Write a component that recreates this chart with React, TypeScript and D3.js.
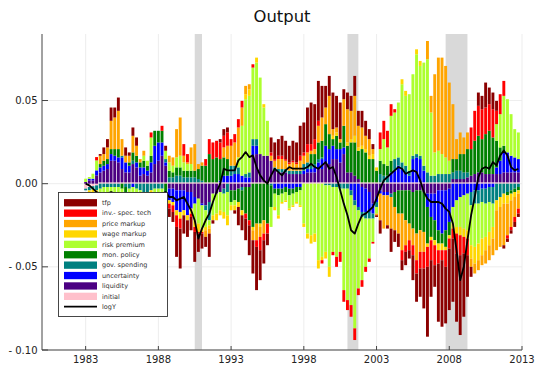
import React, { useRef, useEffect } from "react";
import * as d3 from "d3";

// quarterly shock decomposition, 1983Q1 .. 2012Q4, values in 1/1000 of log output
const firstYear = 1983;

const tfp = [
  0, 0, 0, -3, 1, 4, 5, 8, 6, 8,
  0, 5, 2, 5, 5, -1, -3, -2, -3, -2,
  -2, -2, 3, -5, -6, -18, -24, -11, -10, -8,
  -18, -11, -9, -6, -14, -2, 0, 2, 4, 3,
  0, -2, -11, -9, -13, -18, -20, -26, -18, -14,
  -7, 9, 10, 10, 12, 11, 10, 12, 12, 18,
  18, 22, 25, 21, 24, 19, 13, 12, 22, 19,
  22, 6, 10, 9, 12, 9, 10, 9, 6, 3,
  -1, -8, 0, -2, -14, -7, -8, -6, -8, -5,
  -15, -17, -17, -24, -42, -22, -13, -35, -40, -34,
  -37, -38, -41, -48, -38, -25, -6, 0, 8, 8,
  15, 10, 10, 6, 0, -2, -2, -2, -3, -2,
];
const invTech = [
  0, 0, -2, 2, -2, -2, -2, -1, -2, -1,
  -2, 0, -2, -2, -2, -2, -3, -3, 3, 0,
  0, 3, -5, -3, -4, -7, -6, 7, 5, -2,
  -3, -1, -1, 4, 9, 10, 10, 10, 7, 8,
  4, 5, 5, 4, -3, -3, 2, -4, -8, -4,
  -6, 2, 1, 2, 2, 1, 1, 1, 1, 3,
  2, 5, 4, 6, 3, -2, 0, 0, -2, -6,
  -6, -7, -6, -7, -7, -4, -4, -3, -2, -1,
  0, 10, 11, 10, 7, 2, 0, -6, -4, -6,
  -6, -8, -10, -10, -12, -12, -12, -8, -6, -10,
  -6, -6, -12, -12, -10, -10, 13, 18, 18, 18,
  16, 16, 17, 8, 12, 9, -2, -2, -3, -3,
];
const priceMarkup = [
  0, 0, 0, 0, 5, 4, 7, 17, 19, 23,
  10, 4, 4, 10, 6, 2, 3, -4, -4, -2,
  -2, -3, -4, 4, 5, 17, 23, 4, 1, 10,
  16, 3, 2, -4, -3, 0, 0, 0, 6, 8,
  12, 14, 18, 11, 5, 3, -6, -10, -6, -8,
  0, 3, 4, 6, 6, 5, 4, 5, 4, 6,
  5, 6, 2, 3, 10, 14, 10, 23, 4, 3,
  2, 16, 20, 17, 24, 13, 11, 8, 10, 3,
  -1, -16, -20, -18, -19, -14, -12, -22, -15, -10,
  -10, -16, -13, -12, 11, 10, 47, 56, 58, 55,
  47, 33, 12, 13, 10, 10, -5, -6, -6, -6,
  -8, -9, -10, -24, -24, -25, -19, -16, -12, -9,
];
const wageMarkup = [
  0, -2, -2, -3, -3, -2, -2, -2, -2, -2,
  -2, -2, -3, -2, -2, -3, -4, -4, -3, -2,
  -2, -2, -3, -2, -2, -3, -4, -3, -3, -3,
  -4, -5, -2, -2, -2, -3, -4, -3, -4, -6,
  -3, -3, -3, -3, 3, 4, -2, 3, -2, 2,
  0, 0, -2, -2, -1, -1, -1, -1, -1, -1,
  -2, -3, -5, -5, -5, -2, -4, -6, 2, 2,
  0, 0, 2, 2, 4, 2, 2, 2, 2, 3,
  2, 0, 0, 0, 0, 0, 0, 3, 3, 0,
  0, 3, 3, 0, -2, -2, -3, -4, -4, -2,
  -2, -3, -4, -5, -5, -5, -8, -10, -10, -10,
  -8, -8, -7, -6, -6, -6, -5, -4, -3, -2,
];
const riskPremium = [
  2, 1, 3, 6, -4, -4, -3, -3, -4, -3,
  -5, -6, -8, -6, -7, -6, 3, 3, 11, -3,
  -3, -4, 5, 5, 4, 6, 7, 5, 4, 4,
  -10, -15, -14, -10, -3, -13, -12, -11, -11, -14,
  -2, -3, 6, 30, 45, 46, 43, 46, 46, 29,
  21, -12, -8, -12, -5, -5, -8, -7, -6, -9,
  -24, -30, -31, -30, -46, -44, -40, -49, -39, -42,
  -38, -61, -67, -66, -74, -47, -38, -29, -24, -14,
  -4, 7, 15, 11, 27, 28, 33, 47, 42, 46,
  49, 60, 54, 62, 68, 38, 14, 14, 12, 10,
  8, -10, -16, -18, -20, -22, -24, -26, -24, -22,
  -20, -18, -14, 10, 20, 30, 32, 25, 17, 16,
];
const monPolicy = [
  0, 0, 0, 0, 2, 3, 3, 3, 4, 5,
  -3, -4, 2, 5, 4, 3, 4, 3, 4, 9,
  7, 7, -6, 4, 3, 5, 5, 4, 4, 4,
  4, 6, 9, 10, 17, 14, 15, 13, 11, 10,
  -7, -6, -8, -12, -16, -20, -26, -24, -24, -22,
  -24, -13, -3, -4, -3, -3, -4, -3, -3, -2,
  0, 0, 7, 6, 10, 10, 13, 9, 4, 8,
  4, 13, 16, 18, 20, 17, 20, 18, 14, 14,
  7, 8, 7, 6, 7, -9, -14, -14, -18, -20,
  -22, -26, -24, -24, -22, -12, -12, -8, -6, -10,
  -8, 8, 7, 10, 11, 14, 16, 20, 22, 20,
  24, 26, 22, 16, 8, 4, -2, -2, -2, -2,
];
const govSpending = [
  -1, -2, -2, -3, -3, -2, -2, -2, -2, -2,
  1, -2, -3, 2, -3, -4, -5, -5, -4, -3,
  -3, -3, 2, 3, 3, 4, 4, 3, 3, 3,
  3, 2, 1, -3, -11, 0, 0, 0, -3, -5,
  6, 5, 4, -2, 2, 3, 4, 4, 0, 0,
  0, -1, 2, 2, 2, 2, 2, 2, 2, 2,
  4, 4, 2, 2, 2, 1, -1, -1, -2, -2,
  -3, -3, -3, -3, -3, -2, -3, -4, -4, -3,
  -3, 5, 4, 4, -2, 7, 5, 4, 4, 3,
  2, 2, 2, 3, 6, 4, 4, 5, 5, 5,
  5, 4, 5, 5, 4, 3, -8, -8, -8, -8,
  -9, -9, -10, -10, -8, -6, -5, -4, -3, -2,
];
const uncertainty = [
  0, 1, 1, 3, 3, 3, 3, 4, 3, 3,
  7, 6, 4, -2, 3, 5, 4, 3, 6, 11,
  11, 8, 2, -7, -8, -12, -13, -12, -14, -10,
  -4, 0, -1, 0, 0, 0, 0, 1, 4, 4,
  4, 5, 5, 4, 3, 3, 6, 5, 0, 0,
  0, 0, -3, -3, -3, -2, -3, -3, -2, -2,
  2, 2, 2, 3, 4, 6, 10, 9, 8, 6,
  8, 4, 0, -4, -10, -14, -15, -14, -12, -6,
  -3, -2, -2, -2, 6, 7, 10, 8, 6, 4,
  14, 15, 14, 7, -8, -14, -16, -24, -26, -24,
  -20, -14, -10, -8, -7, -6, -5, -4, -4, -3,
  -3, -2, -2, 4, 8, 12, 12, 10, 9, 8,
];
const liquidity = [
  1, 2, 2, 5, 6, 7, 8, 13, 13, 12,
  8, 6, 6, 11, 9, 4, 5, 4, 6, 11,
  13, 16, 10, -3, -3, -4, -4, -4, -5, -5,
  -8, -9, -12, -13, -11, -6, -6, -5, -3, 0,
  -4, -4, -3, -2, -2, -2, 16, 17, 17, 16,
  16, 13, 7, 6, 6, 6, 5, 5, 5, 5,
  5, 6, 6, 6, 8, 8, 12, 11, 14, 14,
  12, 17, 6, 6, 4, 2, -2, -3, -5, -12,
  -8, -4, -5, -5, -6, -5, -4, -4, -4, -4,
  -5, -4, -4, -5, -6, -6, -6, -4, -4, -4,
  -3, 2, 2, 2, 2, 3, 4, 5, 6, 6,
  5, 5, 5, 5, 5, 6, 6, 6, 6, 6,
];
const initial = [
  -3, -2, -1.5, -1, 0.8, 0.8, 0.8, 0.8, 0.8, 0.8,
  0.8, 0.8, 0.8, 0.8, 0.8, 0.8, 0.8, 0.8, 0.8, 0.8,
  0.8, 0.8, 0.8, 0.8, 0.8, 0.8, 0.8, 0.8, 0.8, 0.8,
  0.8, 0.8, 0.8, 0.8, 0.8, 0.8, 0.8, 0.8, 0.8, 0.8,
  0.8, 0.8, 0.8, 0.8, 0.8, 0.8, 0.8, 0.8, 0.8, 0.8,
  0.8, 0.8, 0.8, 0.8, 0.8, 0.8, 0.8, 0.8, 0.8, 0.8,
  0.8, 0.8, 0.8, 0.8, 0.8, 0.8, 0.8, 0.8, 0.8, 0.8,
  0.8, 0.8, 0.8, 0.8, 0.8, 0.8, 0.8, 0.8, 0.8, 0.8,
  0.8, 0.8, 0.8, 0.8, 0.8, 0.8, 0.8, 0.8, 0.8, 0.8,
  0.8, 0.8, 0.8, 0.8, 0.8, 0.8, 0.8, 0.8, 0.8, 0.8,
  0.8, 0.8, 0.8, 0.8, 0.8, 0.8, 0.8, 0.8, 0.8, 0.8,
  0.8, 0.8, 0.8, 0.8, 0.8, 0.8, 0.8, 0.8, 0.8, 0.8,
];
const logY = [
  0, -1, -3, -5, -6, -7, -6, -5, -6, -6,
  -8, -9, -10, -8, -9, -10, -11, -10, -8, -7,
  -6, -6, -5, -8, -8, -10, -9, -8, -12, -16,
  -22, -33, -27, -22, -18, -11, -5, 0, 9, 8,
  8, 8, 14, 16, 19, 16, 17, 10, 5, 2,
  0, 5, 9, 7, 5, 8, 10, 9, 9, 9,
  9, 10, 12, 10, 9, 11, 13, 9, 10, 4,
  -4, -12, -19, -28, -30, -24, -19, -18, -16, -14,
  -9, -3, 2, 4, 6, 8, 10, 9, 6, 7,
  8, 7, 2, -5, -9, -11, -11, -11, -12, -15,
  -17, -24, -40, -58, -50, -34, -19, -8, 4, 9,
  10, 9, 13, 11, 17, 20, 17, 10, 8, 9,
];

const recessions: [number, number][] = [[1990.5, 1991.0], [2001.0, 2001.75], [2007.75, 2009.25]];
const xTicks = [1983, 1988, 1993, 1998, 2003, 2008, 2013];
const yTicks = [0.05, 0, -0.05, -0.1];
const yTickLabels = ["0.05", "0.00", "- 0.05", "- 0.10"];

const shocks = [
  { key: "tfp", label: "tfp", color: "#8b0000", values: tfp },
  { key: "ist", label: "inv.- spec. tech", color: "#ff0000", values: invTech },
  { key: "pm", label: "price markup", color: "#ffa500", values: priceMarkup },
  { key: "wm", label: "wage markup", color: "#ffd700", values: wageMarkup },
  { key: "rp", label: "risk premium", color: "#adff2f", values: riskPremium },
  { key: "mp", label: "mon. policy", color: "#008000", values: monPolicy },
  { key: "gs", label: "gov. spending", color: "#008080", values: govSpending },
  { key: "unc", label: "uncertainty", color: "#0000ff", values: uncertainty },
  { key: "liq", label: "liquidity", color: "#4b0082", values: liquidity },
  { key: "init", label: "initial", color: "#ffc0cb", values: initial },
];

const App: React.FC = () => {
  const svgRef = useRef<SVGSVGElement | null>(null);

  useEffect(() => {
    if (!svgRef.current) return;
    const svg = d3.select(svgRef.current);
    svg.selectAll("*").remove();

    const font = "'DejaVu Sans', sans-serif";
    const x = d3.scaleLinear().domain([1980, 2013]).range([42, 522]);
    const y = d3.scaleLinear().domain([-0.1, 0.09]).range([350, 34]);

    const rows = tfp.map((_, i) => {
      const r: any = { date: firstYear + i / 4 };
      shocks.forEach((s) => (r[s.key] = s.values[i] / 1000));
      return r;
    });

    // initial nearest zero, tfp outermost
    const stackKeys = shocks.map((s) => s.key).reverse();
    const stacked = d3.stack<any>().keys(stackKeys).offset(d3.stackOffsetDiverging)(rows);
    const color = d3.scaleOrdinal<string, string>()
      .domain(shocks.map((s) => s.key))
      .range(shocks.map((s) => s.color));

    svg.append("rect").attr("width", 537).attr("height", 365).attr("fill", "#fff");

    // grid
    const grid = svg.append("g").attr("stroke", "#e9e9e9").attr("stroke-width", 0.8);
    grid.selectAll("line.v").data(xTicks).join("line")
      .attr("x1", (d) => x(d)).attr("x2", (d) => x(d))
      .attr("y1", y(0.09)).attr("y2", y(-0.1));
    grid.selectAll("line.h").data(yTicks).join("line")
      .attr("x1", x(1980)).attr("x2", x(2013))
      .attr("y1", (d) => y(d)).attr("y2", (d) => y(d));

    // recession bands
    svg.append("g").selectAll("rect").data(recessions).join("rect")
      .attr("x", (d) => x(d[0]))
      .attr("width", (d) => x(d[1]) - x(d[0]))
      .attr("y", y(0.09))
      .attr("height", y(-0.1) - y(0.09))
      .attr("fill", "#d9d9d9");

    // stacked bars
    const bw = 2.9;
    svg.append("g").selectAll("g").data(stacked).join("g")
      .attr("fill", (d) => color(d.key))
      .selectAll("rect")
      .data((d) => d.filter((p) => p[1] !== p[0]))
      .join("rect")
      .attr("x", (p: any) => x(p.data.date) - bw / 2)
      .attr("width", bw)
      .attr("y", (p) => y(Math.max(p[0], p[1])))
      .attr("height", (p) => Math.abs(y(p[0]) - y(p[1])));

    // logY
    const line = d3.line<number>()
      .x((_, i) => x(firstYear + i / 4))
      .y((v) => y(v / 1000));
    svg.append("path")
      .attr("d", line(logY) as string)
      .attr("fill", "none")
      .attr("stroke", "#000")
      .attr("stroke-width", 1.8)
      .attr("stroke-linejoin", "round");

    // axes
    const axis = svg.append("g").attr("stroke", "#444").attr("stroke-width", 1);
    axis.append("line").attr("x1", 42).attr("x2", 42).attr("y1", y(0.09)).attr("y2", y(-0.1));
    axis.append("line").attr("x1", 42).attr("x2", x(2013)).attr("y1", y(-0.1)).attr("y2", y(-0.1));
    axis.selectAll("line.yt").data(yTicks).join("line")
      .attr("x1", 42).attr("x2", 48).attr("y1", (d) => y(d)).attr("y2", (d) => y(d));
    axis.selectAll("line.xt").data(xTicks).join("line")
      .attr("x1", (d) => x(d)).attr("x2", (d) => x(d))
      .attr("y1", y(-0.1)).attr("y2", y(-0.1) - 4);

    svg.append("g").selectAll("text").data(yTicks).join("text")
      .attr("x", 37.5).attr("y", (d) => y(d)).attr("dy", "0.36em")
      .attr("text-anchor", "end")
      .style("font", `10px ${font}`).attr("fill", "#222")
      .text((_, i) => yTickLabels[i]);
    svg.append("g").selectAll("text").data(xTicks).join("text")
      .attr("x", (d) => x(d)).attr("y", 363)
      .attr("text-anchor", "middle")
      .style("font", `10px ${font}`).attr("fill", "#222")
      .text((d) => String(d));

    // title
    svg.append("text")
      .attr("x", (x(1980) + x(2013)) / 2).attr("y", 22)
      .attr("text-anchor", "middle")
      .style("font", `16.4px ${font}`).attr("fill", "#111")
      .text("Output");

    // legend
    const lg = svg.append("g");
    lg.append("rect")
      .attr("x", 58.5).attr("y", 192.5).attr("width", 109).attr("height", 124)
      .attr("fill", "#fff").attr("stroke", "#333").attr("stroke-width", 0.9);
    const rowY = (k: number) => 202.7 + 10.4 * k;
    lg.selectAll("rect.sw").data(shocks).join("rect")
      .attr("x", 64).attr("y", (_, k) => rowY(k) - 3.6)
      .attr("width", 33).attr("height", 7.3)
      .attr("fill", (d) => d.color);
    lg.append("line")
      .attr("x1", 64).attr("x2", 97).attr("y1", rowY(10)).attr("y2", rowY(10))
      .attr("stroke", "#000").attr("stroke-width", 1.8);
    lg.selectAll("text").data([...shocks.map((s) => s.label), "logY"]).join("text")
      .attr("x", 102).attr("y", (_, k) => rowY(k)).attr("dy", "0.35em")
      .style("font", `6.5px ${font}`).attr("fill", "#333")
      .text((d) => d);
  }, []);

  return (
    <svg
      ref={svgRef}
      width={537}
      height={365}
      style={{ position: "absolute", left: 0, top: 0 }}
    />
  );
};

export default App;
